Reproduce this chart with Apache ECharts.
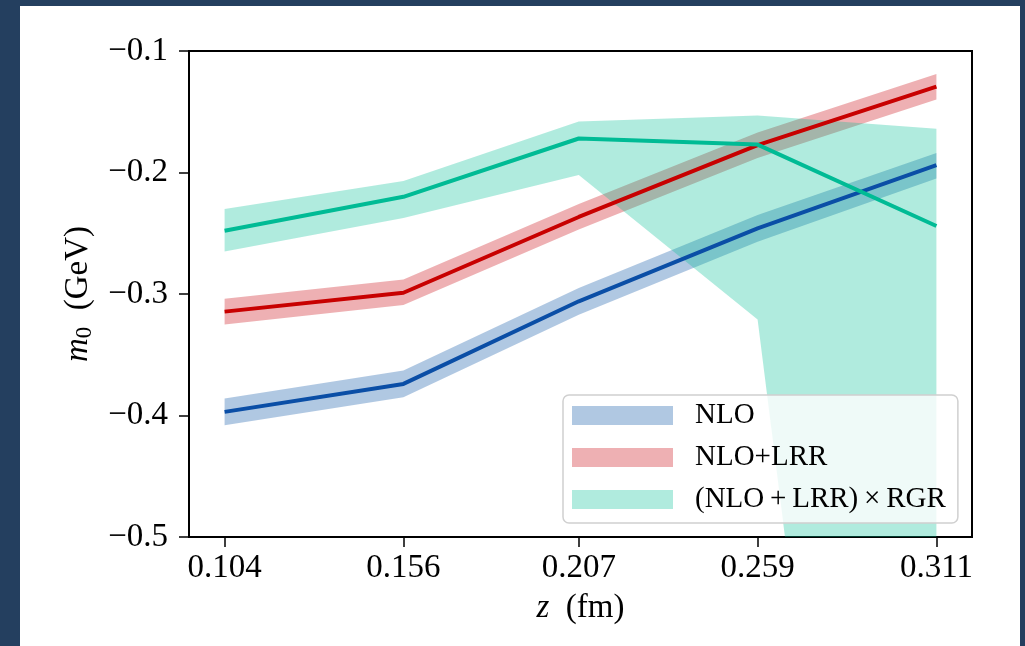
<!DOCTYPE html>
<html>
<head>
<meta charset="utf-8">
<script src="https://cdn.jsdelivr.net/npm/echarts@6/dist/echarts.min.js"></script>
<style>
  html, body { margin: 0; padding: 0; background: #243f5f; }
  body { width: 1025px; height: 646px; position: relative; overflow: hidden; }
  #chart { position: absolute; left: 20px; top: 6px; width: 1000px; height: 640px; background: #ffffff; }
</style>
</head>
<body>
<div id="chart"></div>
<script>
// separation z (fm) and tick labels
const zValues = [0.104, 0.156, 0.207, 0.259, 0.311];
const xTickLabels = ['0.104', '0.156', '0.207', '0.259', '0.311'];
const yTicks = [-0.5, -0.4, -0.3, -0.2, -0.1];
const yTickLabels = ['\u22120.5', '\u22120.4', '\u22120.3', '\u22120.2', '\u22120.1'];

// m0 (GeV): central values and band edges
const nloCentral = [-0.397, -0.374, -0.306, -0.246, -0.194];
const nloLower   = [-0.408, -0.385, -0.317, -0.257, -0.205];
const nloUpper   = [-0.386, -0.363, -0.295, -0.235, -0.184];

const lrrCentral = [-0.3145, -0.299, -0.2366, -0.1774, -0.1293];
const lrrLower   = [-0.325, -0.309, -0.247, -0.188, -0.140];
const lrrUpper   = [-0.304, -0.288, -0.226, -0.167, -0.119];

const rgrCentral = [-0.248, -0.220, -0.172, -0.177, -0.244];
const rgrLower   = [-0.265, -0.2375, -0.202, -0.321, -1.49];
const rgrUpper   = [-0.230, -0.207, -0.158, -0.153, -0.164];

const seriesNames = ['NLO', 'NLO+LRR', '(NLO\u2009+\u2009LRR)\u2009\u00d7\u2009RGR'];

const FONT = 'Liberation Serif';
const lineColors = ['#0a4ea6', '#c80000', '#00bb95'];
const bandColors = ['rgba(0,78,161,0.31)', 'rgba(200,0,10,0.31)', 'rgba(0,190,150,0.31)'];

const pairs = (ys) => ys.map((y, i) => [zValues[i], y]);

// Shaded uncertainty band: one polygon from the upper edge and the reversed lower edge,
// clipped to the plotting area.
function bandSeries(name, lower, upper, color) {
  return {
    type: 'custom', name: name, silent: true, z: 1,
    itemStyle: { color: color },
    data: zValues.map((z, i) => [z, lower[i], upper[i]]),
    encode: { x: 0, y: [1, 2] },
    renderItem: (params, api) => {
      if (params.dataIndex !== 0) return null;
      const top = zValues.map((z, i) => api.coord([z, upper[i]]));
      const bottom = zValues.map((z, i) => api.coord([z, lower[i]])).reverse();
      const cs = params.coordSys;
      return {
        type: 'polygon',
        shape: { points: top.concat(bottom) },
        style: { fill: color },
        clipPath: { type: 'rect', shape: { x: cs.x, y: cs.y, width: cs.width, height: cs.height } }
      };
    }
  };
}

function centralSeries(values, color) {
  return {
    type: 'line', data: pairs(values), symbol: 'none', silent: true,
    lineStyle: { color: color, width: 4 }, z: 2
  };
}

const span = zValues[zValues.length - 1] - zValues[0];

const option = {
  animation: false,
  grid: {
    left: 169, right: 48, top: 45, bottom: 109,
    show: true, borderColor: '#000', borderWidth: 2, backgroundColor: 'transparent'
  },
  xAxis: {
    type: 'value',
    min: zValues[0] - 0.05 * span,
    max: zValues[zValues.length - 1] + 0.05 * span,
    splitLine: { show: false },
    axisLine: { show: true, lineStyle: { color: '#000', width: 2 } },
    axisTick: { show: true, customValues: zValues, length: 10, lineStyle: { color: '#000', width: 1.5 } },
    axisLabel: {
      customValues: zValues, margin: 15, color: '#000', fontFamily: FONT, fontSize: 33,
      formatter: (v) => xTickLabels[zValues.findIndex(z => Math.abs(z - v) < 1e-9)]
    },
    name: '{i|z}  (fm)',
    nameLocation: 'middle', nameGap: 55,
    nameTextStyle: {
      color: '#000', fontFamily: FONT, fontSize: 33,
      rich: { i: { fontFamily: FONT, fontStyle: 'italic', fontSize: 33, color: '#000' } }
    }
  },
  yAxis: {
    type: 'value', min: -0.5, max: -0.1, interval: 0.1,
    splitLine: { show: false },
    axisLine: { show: true, lineStyle: { color: '#000', width: 2 } },
    axisTick: { show: true, length: 10, lineStyle: { color: '#000', width: 1.5 } },
    axisLabel: {
      margin: 21, color: '#000', fontFamily: FONT, fontSize: 33,
      formatter: (v) => yTickLabels[yTicks.findIndex(t => Math.abs(t - v) < 1e-9)]
    },
    name: '{i|m}{s|0}  (GeV)',
    nameLocation: 'middle', nameRotate: 90, nameGap: 93,
    nameTextStyle: {
      color: '#000', fontFamily: FONT, fontSize: 33,
      rich: {
        i: { fontFamily: FONT, fontStyle: 'italic', fontSize: 33, color: '#000' },
        s: { fontFamily: FONT, fontSize: 23, color: '#000', padding: [12, 0, 0, 0] }
      }
    }
  },
  legend: {
    data: seriesNames,
    orient: 'vertical',
    left: 543, top: 389,
    icon: 'rect',
    itemWidth: 101, itemHeight: 19, itemGap: 13,
    padding: [6, 12, 9, 9],
    backgroundColor: 'rgba(255,255,255,0.8)',
    borderColor: '#d0d0d0', borderWidth: 1.5, borderRadius: 6,
    itemStyle: { borderWidth: 0 },
    textStyle: { color: '#000', fontFamily: FONT, fontSize: 29, lineHeight: 29, padding: [0, 0, 0, 17] }
  },
  series: [
    bandSeries(seriesNames[0], nloLower, nloUpper, bandColors[0]),
    bandSeries(seriesNames[1], lrrLower, lrrUpper, bandColors[1]),
    bandSeries(seriesNames[2], rgrLower, rgrUpper, bandColors[2]),
    centralSeries(nloCentral, lineColors[0]),
    centralSeries(lrrCentral, lineColors[1]),
    centralSeries(rgrCentral, lineColors[2])
  ]
};

const chart = echarts.init(document.getElementById('chart'), null, { renderer: 'canvas' });
chart.setOption(option);
</script>
</body>
</html>
